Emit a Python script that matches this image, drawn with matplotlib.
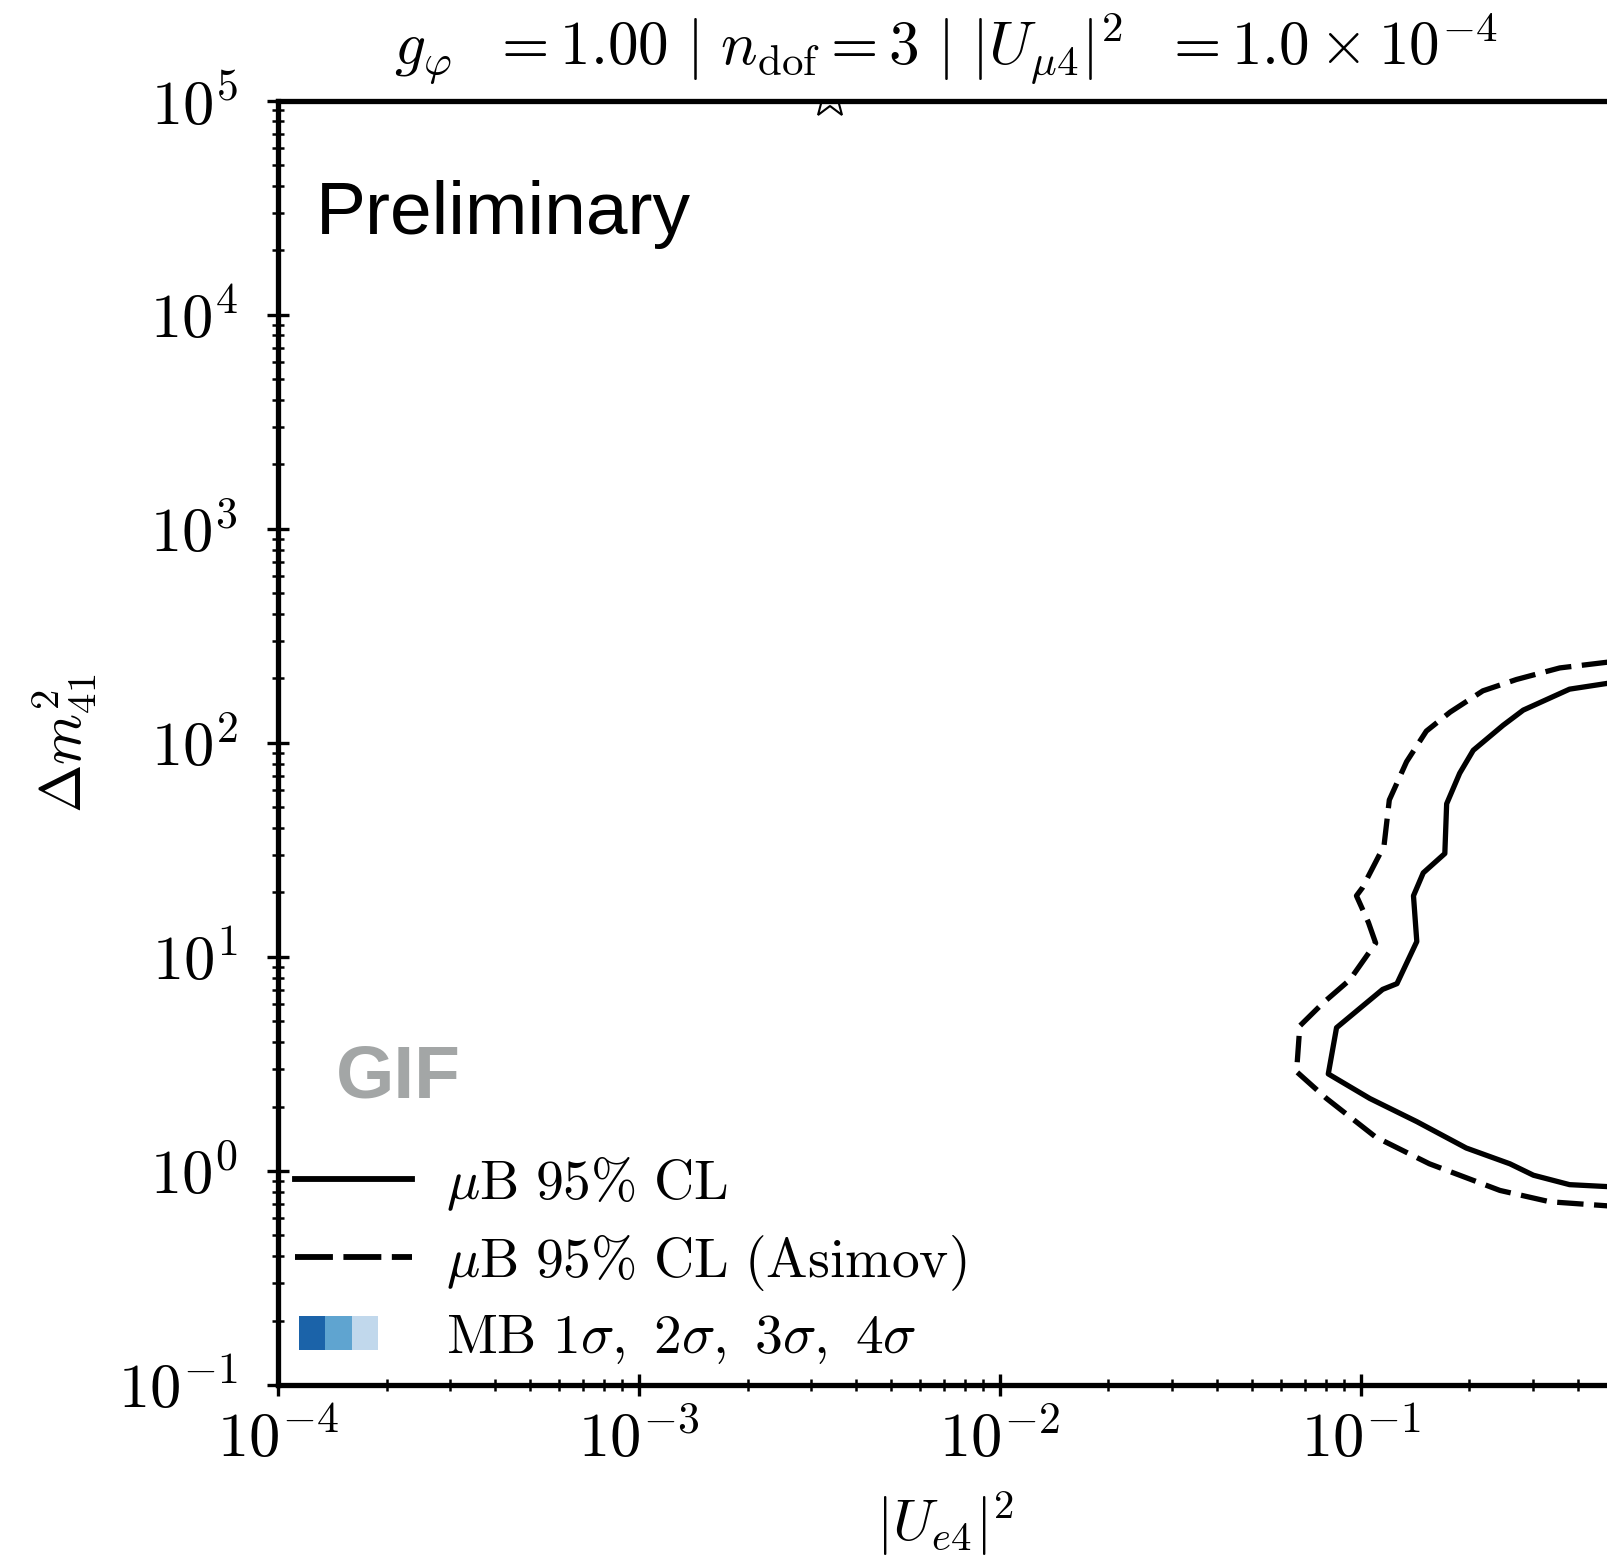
import numpy as np
import matplotlib
matplotlib.use("Agg")
import matplotlib.pyplot as plt
from matplotlib.lines import Line2D
from matplotlib.patches import Rectangle
from matplotlib.legend_handler import HandlerBase
from matplotlib.ticker import LogLocator, FixedLocator, FuncFormatter, NullFormatter

plt.rcParams["mathtext.fontset"] = "cm"
plt.rcParams["font.family"] = "serif"
plt.rcParams["font.serif"] = ["cmr10"]
plt.rcParams["axes.formatter.use_mathtext"] = True

# muB 95% CL contour (observed), traced from the upper branch round to the lower branch
cl95_ue4 = [0.55, 0.483, 0.379, 0.282, 0.248, 0.205, 0.188, 0.173, 0.171, 0.149,
            0.140, 0.143, 0.126, 0.115, 0.0857, 0.0813, 0.106, 0.143, 0.196,
            0.259, 0.301, 0.379, 0.483, 0.55]
cl95_dm2 = [192.0, 189.7, 178.2, 142.2, 120.8, 92.3, 72.1, 51.9, 30.4, 24.7,
            19.3, 11.8, 7.50, 7.05, 4.67, 2.84, 2.18, 1.70, 1.28,
            1.08, 0.955, 0.863, 0.845, 0.84]

# muB 95% CL contour (Asimov)
asimov_ue4 = [0.55, 0.483, 0.356, 0.270, 0.218, 0.177, 0.152, 0.134, 0.120, 0.116,
              0.101, 0.0973, 0.105, 0.110, 0.0933, 0.0787, 0.0678, 0.0664, 0.0804,
              0.110, 0.155, 0.243, 0.334, 0.483, 0.55]
asimov_dm2 = [241.0, 238.2, 223.9, 197.7, 175.0, 139.3, 113.5, 81.7, 54.1, 33.0,
              21.0, 19.3, 14.5, 11.6, 7.82, 6.10, 4.76, 2.91, 2.18,
              1.44, 1.08, 0.811, 0.718, 0.687, 0.684]

# best-fit point
best_fit_ue4 = [3.38e-3]
best_fit_dm2 = [1.03e5]

# labelled decades on each axis
x_major_ticks = [1e-4, 1e-3, 1e-2, 1e-1]
y_major_ticks = [1e-1, 1e0, 1e1, 1e2, 1e3, 1e4, 1e5]

# MiniBooNE allowed-region shades (1 sigma .. 3 sigma)
mb_colors = ["#1b63a9", "#5fa4d0", "#c1d8ec"]

legend_labels = [r"$\mu\mathrm{B}\ 95\%\ \mathrm{CL}$",
                 r"$\mu\mathrm{B}\ 95\%\ \mathrm{CL}\ (\mathrm{Asimov})$",
                 r"$\mathrm{MB}\ 1\sigma,\ 2\sigma,\ 3\sigma,\ 4\sigma$"]

title_text = (r"$g_\varphi\ \ = 1.00\ |\ n_{\rm dof} = 3\ |\ |U_{\mu 4}|^2\ \ "
              r"= 1.0 \times 10^{-4}$")


class ShadeBoxes:
    def __init__(self, colors):
        self.colors = colors


class ShadeBoxesHandler(HandlerBase):
    def create_artists(self, legend, orig_handle, xdescent, ydescent,
                       width, height, fontsize, trans):
        w = width * 0.226
        h = height * 0.88
        x0 = -xdescent + width * 0.035
        y0 = -ydescent + (height - h) / 2
        arts = []
        for i, c in enumerate(orig_handle.colors):
            arts.append(Rectangle((x0 + i * w, y0), w, h, facecolor=c,
                                  edgecolor="none", transform=trans))
        return arts


fig = plt.figure(figsize=(16.08, 15.63), dpi=100)
ax = fig.add_axes([0.17289, 0.11388, 0.83022, 0.82169])
ax.set_xscale("log")
ax.set_yscale("log")
ax.set_xlim(1e-4, 0.5)
ax.set_ylim(1e-1, 1e5)

ax.plot(cl95_ue4, cl95_dm2, color="black", lw=3.8, solid_joinstyle="round")
ax.plot(asimov_ue4, asimov_dm2, color="black", lw=3.8, ls=(0, (5.0, 2.0)))
ax.plot(best_fit_ue4, best_fit_dm2, ls="none", marker="*", ms=30,
        mfc="white", mec="black", mew=1.5)

for side in ["left", "bottom", "top", "right"]:
    ax.spines[side].set_linewidth(3.8)

ax.xaxis.set_major_locator(FixedLocator(x_major_ticks))
ax.yaxis.set_major_locator(FixedLocator(y_major_ticks))
ax.xaxis.set_minor_locator(LogLocator(base=10, subs=np.arange(2, 10), numticks=100))
ax.yaxis.set_minor_locator(LogLocator(base=10, subs=np.arange(2, 10), numticks=100))
fmt = FuncFormatter(lambda v, p: r"$10^{%d}$" % int(round(np.log10(v))))
ax.xaxis.set_major_formatter(fmt)
ax.yaxis.set_major_formatter(fmt)
ax.xaxis.set_minor_formatter(NullFormatter())
ax.yaxis.set_minor_formatter(NullFormatter())
ax.tick_params(which="major", direction="inout", length=16, width=2.4,
               labelsize=45, pad=10, top=False, right=False)
ax.tick_params(axis="y", which="major", pad=21)
ax.tick_params(which="minor", direction="inout", length=8.5, width=1.8,
               top=False, right=False)

ax.set_xlabel(r"$|U_{e4}|^2$", fontsize=42, labelpad=14)
ax.set_ylabel(r"$\Delta m^2_{41}$", fontsize=42, labelpad=14)
ax.set_title(title_text, fontsize=44, pad=26)

ax.text(0.0285, 0.896, "Preliminary", transform=ax.transAxes,
        family="Liberation Sans", fontsize=54, va="baseline", ha="left")
ax.text(0.0434, 0.224, "GIF", transform=ax.transAxes, family="Liberation Sans",
        fontweight="bold", fontsize=54, color="#a3a6a6", va="baseline", ha="left")

handles = [Line2D([], [], color="black", lw=4.2),
           Line2D([], [], color="black", lw=4.2, ls=(0, (6.5, 1.8))),
           ShadeBoxes(mb_colors)]
ax.legend(handles, legend_labels, loc="lower left",
          bbox_to_anchor=(0.0127, 0.015), frameon=False, fontsize=40,
          borderpad=0, borderaxespad=0, handlelength=2.1, handletextpad=0.62,
          labelspacing=0.36,
          handler_map={ShadeBoxes: ShadeBoxesHandler()})

fig.savefig("out.png", dpi=100)
